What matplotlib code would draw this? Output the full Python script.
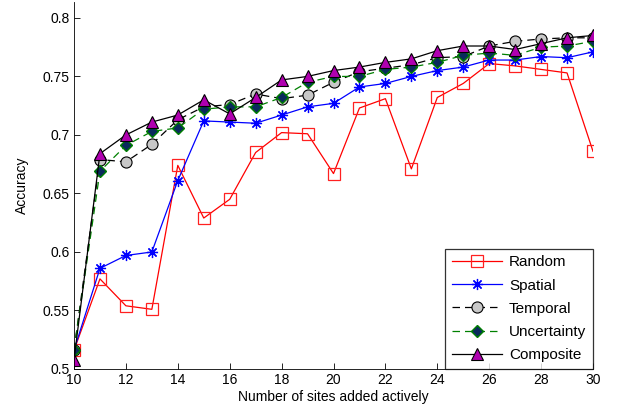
import numpy as np
import matplotlib.pyplot as plt

plt.rcParams['font.family'] = ['Liberation Sans', 'DejaVu Sans']

# Data
sites = list(range(10, 31))

random_acc = [0.516, 0.577, 0.554, 0.551, 0.674, 0.629, 0.645, 0.685, 0.702, 0.701,
              0.667, 0.723, 0.731, 0.671, 0.732, 0.744, 0.761, 0.759, 0.756, 0.753, 0.686]
spatial_acc = [0.516, 0.586, 0.597, 0.600, 0.661, 0.712, 0.711, 0.710, 0.717, 0.724,
               0.727, 0.741, 0.744, 0.750, 0.755, 0.758, 0.764, 0.764, 0.767, 0.766, 0.771]
temporal_acc = [0.516, 0.679, 0.677, 0.692, 0.713, 0.724, 0.726, 0.735, 0.731, 0.734,
                0.745, 0.754, 0.757, 0.760, 0.766, 0.767, 0.776, 0.780, 0.782, 0.783, 0.783]
uncert_acc = [0.516, 0.669, 0.691, 0.703, 0.706, 0.722, 0.724, 0.724, 0.732, 0.745,
              0.750, 0.750, 0.756, 0.758, 0.762, 0.768, 0.770, 0.768, 0.775, 0.776, 0.780]
composite_acc = [0.508, 0.684, 0.700, 0.711, 0.717, 0.730, 0.718, 0.732, 0.747, 0.750,
                 0.755, 0.758, 0.762, 0.765, 0.772, 0.776, 0.776, 0.773, 0.778, 0.783, 0.785]

fig = plt.figure(figsize=(6.22, 4.12), dpi=100)
ax = fig.add_axes([74 / 622, 1 - 369 / 412, (593 - 74) / 622, (369 - 2) / 412])

ax.plot(sites, random_acc, color='#ff0000', lw=0.9, marker='s', ms=8,
        mfc='none', mec='#ff2020', mew=0.9, label='Random')
ax.plot(sites, spatial_acc, color='#0000ff', lw=0.9, marker=(8, 2, 0), ms=8,
        mfc='#0000ff', mec='#0000ff', mew=0.9, label='Spatial')
ax.plot(sites, temporal_acc, color='black', lw=0.9, ls=(0, (6, 4)), marker='o', ms=8,
        mfc='#c8c8c8', mec='black', mew=0.8, label='Temporal')
ax.plot(sites, uncert_acc, color='#008000', lw=0.9, ls=(0, (6, 4)), marker='D', ms=6.5,
        mfc='#0a2a5c', mec='#008000', mew=1.0, label='Uncertainty')
ax.plot(sites, composite_acc, color='black', lw=0.9, marker='^', ms=9,
        mfc='#b000b0', mec='black', mew=0.8, label='Composite')

ax.set_xlim(10, 30)
ax.set_ylim(0.5, 0.8136)
ax.set_xticks(range(10, 31, 2))
ax.set_yticks([0.5, 0.55, 0.6, 0.65, 0.7, 0.75, 0.8])
ax.set_yticklabels(['0.5', '0.55', '0.6', '0.65', '0.7', '0.75', '0.8'])
ax.tick_params(direction='in', length=4, width=0.6, labelsize=10, pad=3)

ax.spines['top'].set_visible(False)
ax.spines['right'].set_visible(False)
ax.spines['left'].set_linewidth(0.6)
ax.spines['bottom'].set_linewidth(0.6)

ax.set_xlabel('Number of sites added actively', fontsize=10, labelpad=2)
ax.set_ylabel('Accuracy', fontsize=10, labelpad=10)

leg = ax.legend(loc='lower right', fontsize=11, frameon=True, fancybox=False,
                handlelength=3.3, borderaxespad=0, labelspacing=0.6,
                borderpad=0.45, handletextpad=0.45)
leg.get_frame().set_edgecolor('black')
leg.get_frame().set_linewidth(0.9)

fig.savefig('out.png', dpi=100, facecolor='white')
